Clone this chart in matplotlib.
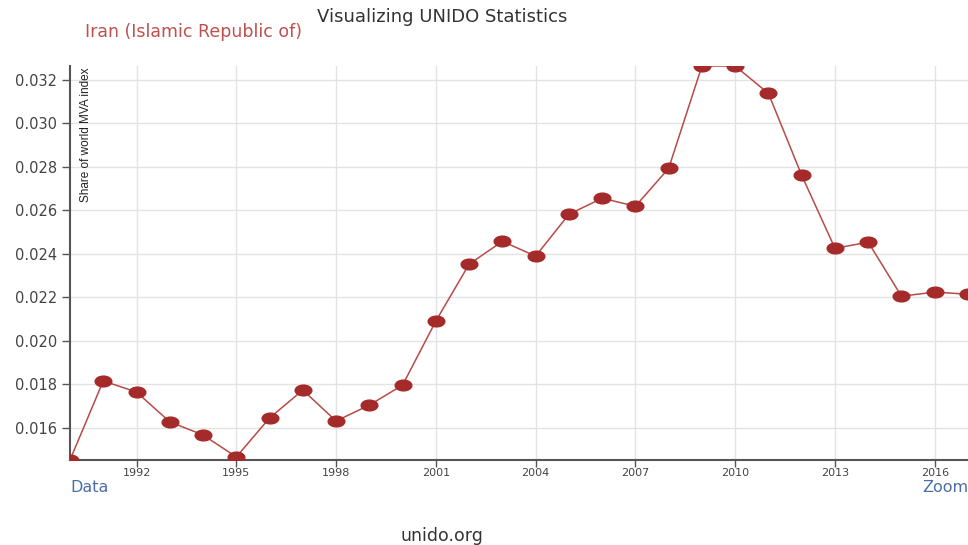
import numpy as np
import matplotlib.pyplot as plt
from matplotlib.path import Path
from matplotlib.transforms import Affine2D

years = list(range(1990, 2018))
share = [0.01453, 0.01816, 0.01765, 0.01628, 0.01568, 0.01467, 0.01646, 0.01774,
         0.01632, 0.01705, 0.01797, 0.02091, 0.02352, 0.02457, 0.02389, 0.02581,
         0.02655, 0.02618, 0.02792, 0.03262, 0.03262, 0.03136, 0.02760, 0.02425,
         0.02453, 0.02205, 0.02224, 0.02214]
x_ticks = list(range(1992, 2017, 3))
y_ticks = [0.016, 0.018, 0.020, 0.022, 0.024, 0.026, 0.028, 0.030, 0.032]

# ellipse marker, the source image is stretched horizontally
ellipse = Path.unit_circle().transformed(Affine2D().scale(1.55, 1.0))

fig = plt.figure(figsize=(9.68, 5.45), dpi=100)
ax = fig.add_axes([70 / 968, 1 - 460 / 545, 1 - 70 / 968, (460 - 66) / 545])

ax.plot(years, share, color="#b84a47", lw=1.1, zorder=3)
ax.plot(years, share, ls="none", marker=ellipse, markersize=12,
        color="#a52a2a", zorder=4)

ax.set_xlim(1990, 2017)
ax.set_ylim(0.01453, 0.03262)
ax.set_xticks(x_ticks)
ax.set_xticklabels([str(y) for y in x_ticks])
ax.set_yticks(y_ticks)
ax.set_yticklabels(["%.3f" % v for v in y_ticks])
ax.grid(True, color="#e3e3e3", lw=1)
ax.set_axisbelow(True)

for s in ["top", "right"]:
    ax.spines[s].set_visible(False)
for s in ["left", "bottom"]:
    ax.spines[s].set_color("#555555")
    ax.spines[s].set_linewidth(1.5)
ax.tick_params(axis="y", length=6, width=1, color="#555555", labelsize=10.5,
               labelcolor="#444444", pad=3)
ax.tick_params(axis="x", length=5, width=1, color="#555555", labelsize=8,
               labelcolor="#444444", pad=1)

ax.text(0.011, 0.995, "Share of world MVA index", transform=ax.transAxes,
        rotation=90, ha="left", va="top", fontsize=8.5, color="#222222",
        family=["Liberation Sans", "DejaVu Sans"])

fig.text(442 / 968, 1 - 17 / 545, "Visualizing UNIDO Statistics", ha="center",
         va="center", fontsize=13, color="#333333")
fig.text(85 / 968, 1 - 32 / 545, "Iran (Islamic Republic of)", ha="left",
         va="center", fontsize=12.5, color="#c0504d")
fig.text(70 / 968, 1 - 487 / 545, "Data", ha="left", va="center",
         fontsize=11.5, color="#4a6fa5")
fig.text(922 / 968, 1 - 487 / 545, "Zoom", ha="left", va="center",
         fontsize=11.5, color="#4a6fa5")
fig.text(442 / 968, 1 - 536 / 545, "unido.org", ha="center", va="center",
         fontsize=12.5, color="#333333")

fig.savefig("out.png", dpi=100)
